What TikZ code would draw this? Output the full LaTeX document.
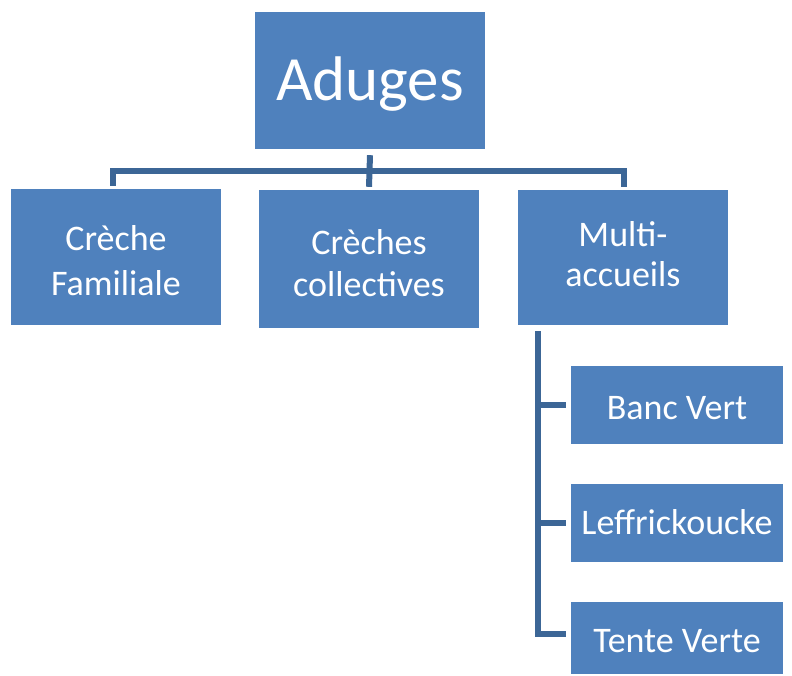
\documentclass[tikz,border=0pt]{standalone}
\usepackage{fontspec}
\setmainfont{Carlito}
\definecolor{boxblue}{HTML}{4F81BD}
\definecolor{linkblue}{HTML}{3C6696}
\tikzset{
  unit/.style={fill=boxblue, inner sep=0pt},
  utext/.style={text=white, inner sep=0pt, align=center,
    font=\fontsize{36}{#1}\selectfont},
  utext/.default=44,
  link/.style={draw=linkblue, line width=6pt, miter limit=10},
}
\begin{document}
\begin{tikzpicture}[x=1pt, y=-1pt]
        \useasboundingbox (0,0) rectangle (792,675);
        \node[unit, minimum width=230pt, minimum height=137pt,
          label={[utext, font=\fontsize{63}{70}\selectfont, yshift=-4pt]center:Aduges}](top) at (370,80.5){};
        \node[unit, minimum width=210pt, minimum height=136pt,
          label={[utext=45, yshift=-4pt]center:Crèche\\Familiale}](cf) at (116,257){};
        \node[unit, minimum width=220pt, minimum height=138pt,
          label={[utext=42, yshift=-4.5pt]center:Crèches\\collectives}](cc) at (369,259){};
        \node[unit, minimum width=210pt, minimum height=135pt,
          label={[utext=40, yshift=3pt]center:Multi-\\accueils}](ma) at (623,257.5){};
        \node[unit, minimum width=212pt, minimum height=78pt,
          label={[utext, yshift=-3.5pt]center:Banc Vert}](bv) at (677,405){};
        \node[unit, minimum width=212pt, minimum height=78pt,
          label={[utext, yshift=1pt]center:Leffrickoucke}](lf) at (677,523){};
        \node[unit, minimum width=212pt, minimum height=72pt,
          label={[utext, yshift=-3.5pt]center:Tente Verte}](tv) at (677,638){};
        % first level
        \coordinate(bus) at (370,171);
        \draw[link] ([yshift=-6pt]top.south) -- ([yshift=3pt]cc.north);
        \draw[link] ([xshift=-3pt,yshift=3pt]cf.north) |- (bus) -| ([xshift=1pt,yshift=3pt]ma.north);
        % multi-accueils
        \coordinate(spine) at (538,331);
        \draw[link] (spine) |- ([xshift=-5pt,yshift=4pt]tv.west);
        \draw[link] (spine |- bv.west) -- ([xshift=-5pt]bv.west);
        \draw[link] (spine |- lf.west) -- ([xshift=-5pt]lf.west);
    \end{tikzpicture}
\end{document}
